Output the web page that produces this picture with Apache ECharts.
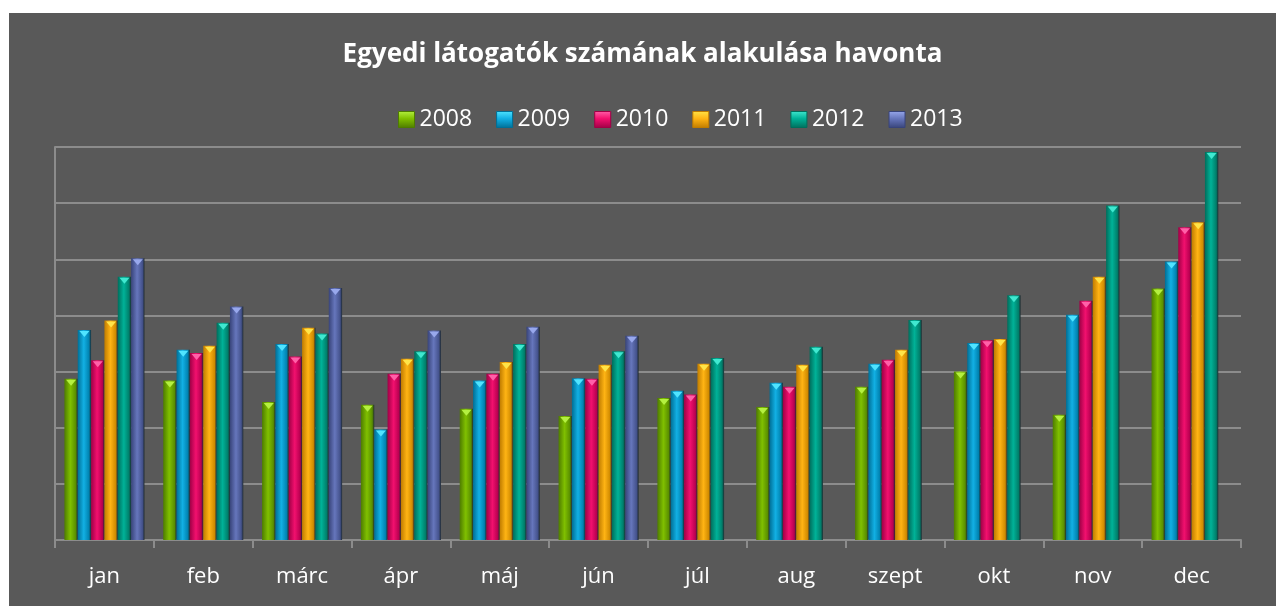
<!DOCTYPE html>
<html>
<head>
<meta charset="utf-8">
<title>Egyedi látogatók</title>
<script src="https://cdn.jsdelivr.net/npm/echarts@6/dist/echarts.min.js"></script>
<style>
	html, body { margin: 0; padding: 0; background: #ffffff; }
	#box { position: absolute; left: 9px; top: 13px; width: 1267px; height: 593px; background: #595959; }
	#chart { width: 100%; height: 100%; }
</style>
</head>
<body>
<div id="box"><div id="chart"></div></div>
<script>
	// honapok
	var months = ['jan', 'feb', 'márc', 'ápr', 'máj', 'jún', 'júl', 'aug', 'szept', 'okt', 'nov', 'dec'];
	var years = ['2008', '2009', '2010', '2011', '2012', '2013'];

	var v2008 = [2870, 2840, 2460, 2410, 2340, 2210, 2530, 2370, 2730, 3000, 2230, 4480];
	var v2009 = [3740, 3390, 3490, 1970, 2840, 2880, 2660, 2800, 3140, 3510, 4010, 4960];
	var v2010 = [3200, 3330, 3270, 2960, 2960, 2870, 2590, 2730, 3210, 3560, 4260, 5570];
	var v2011 = [3910, 3460, 3780, 3230, 3170, 3120, 3140, 3120, 3390, 3580, 4690, 5660];
	var v2012 = [4690, 3870, 3680, 3360, 3490, 3360, 3240, 3440, 3920, 4360, 5960, 6910];
	var v2013 = [5020, 4160, 4490, 3730, 3800, 3640, null, null, null, null, null, null];

	var yTicks = [0, 1000, 2000, 3000, 4000, 5000, 6000, 7000];

	var seriesData = [v2008, v2009, v2010, v2011, v2012, v2013];
	// dark / light / dark for horizontal shading, plus the bevel tip colour
	var shades = [
		['#4e7c00', '#80c000', '#5a8f00', '#b4f040'],
		['#006f96', '#12b0e4', '#0082b0', '#50e4ff'],
		['#a00046', '#f2106e', '#b80050', '#ff60a8'],
		['#c07c00', '#ffb414', '#d08a00', '#ffe448'],
		['#006e5c', '#00b298', '#007e6a', '#40e8d0'],
		['#38447a', '#6676bc', '#44528c', '#98a8ec']
	];

	function grad(s) {
		return new echarts.graphic.LinearGradient(0, 0, 1, 0, [
			{ offset: 0, color: s[0] },
			{ offset: 0.45, color: s[1] },
			{ offset: 0.85, color: s[2] },
			{ offset: 1, color: '#1e2a30' }
		]);
	}

	var series = [];
	var legendData = [];
	for (var i = 0; i < years.length; i++) {
		series.push({
			name: years[i],
			type: 'bar',
			data: seriesData[i],
			barGap: 0,
			barCategoryGap: '19%',
			itemStyle: { color: grad(shades[i]) },
			z: 2
		});
		legendData.push({
			name: years[i],
			itemStyle: {
				color: new echarts.graphic.LinearGradient(0, 0, 0, 1, [
					{ offset: 0, color: shades[i][3] },
					{ offset: 0.45, color: shades[i][1] },
					{ offset: 1, color: shades[i][0] }
				]),
				borderColor: shades[i][0],
				borderWidth: 1
			}
		});
	}
	for (var j = 0; j < years.length; j++) {
		series.push({
			name: years[j],
			type: 'pictorialBar',
			data: seriesData[j],
			barGap: 0,
			barCategoryGap: '19%',
			symbol: 'triangle',
			symbolRotate: 180,
			symbolSize: [10, 6],
			symbolPosition: 'end',
			symbolOffset: [0, 1],
			itemStyle: { color: shades[j][3] },
			z: 3
		});
	}

	var chart = echarts.init(document.getElementById('chart'));
	var option = {
		animation: false,
		backgroundColor: '#595959',
		title: {
			text: 'Egyedi látogatók számának alakulása havonta',
			left: 'center',
			top: 24,
			textStyle: {
				color: '#ffffff',
				fontFamily: 'Open Sans',
				fontWeight: 'bold',
				fontSize: 26
			}
		},
		legend: {
			data: legendData,
			top: 90,
			left: 384,
			itemWidth: 16,
			itemHeight: 16,
			itemGap: 24,
			icon: 'rect',
			textStyle: {
				color: '#ffffff',
				fontFamily: 'Open Sans',
				fontSize: 23
			}
		},
		grid: {
			left: 46,
			right: 35,
			top: 134,
			bottom: 66,
			containLabel: false
		},
		xAxis: {
			type: 'category',
			data: months,
			axisLine: {
				show: true,
				lineStyle: { color: '#8c8c8c', width: 2 }
			},
			axisTick: {
				show: true,
				length: 8,
				lineStyle: { color: '#8c8c8c', width: 2 }
			},
			axisLabel: {
				color: '#ffffff',
				fontFamily: 'Open Sans',
				fontSize: 22,
				margin: 26
			}
		},
		yAxis: {
			type: 'value',
			min: yTicks[0],
			max: yTicks[yTicks.length - 1],
			interval: 1000,
			axisLabel: { show: false },
			axisTick: { show: false },
			axisLine: {
				show: true,
				lineStyle: { color: '#8c8c8c', width: 2 }
			},
			splitLine: {
				show: true,
				lineStyle: { color: '#8c8c8c', width: 2 }
			}
		},
		series: series
	};
	chart.setOption(option);
</script>
</body>
</html>
